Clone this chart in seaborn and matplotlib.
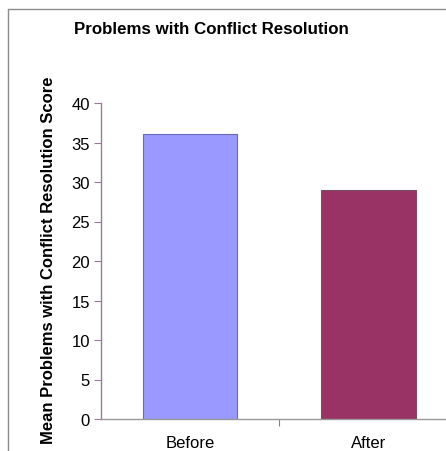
import matplotlib
matplotlib.use("Agg")
import matplotlib.pyplot as plt
import seaborn as sns
import pandas as pd
from matplotlib.lines import Line2D

# Mean scores before and after the intervention
categories = ["Before", "After"]
scores = [36.1, 29.0]
bar_colors = ["#9999FF", "#993366"]
edge_colors = ["#6a6ab8", "#7a5068"]
yticks = [0, 5, 10, 15, 20, 25, 30, 35, 40]

sns.set_theme(style="white")
plt.rcParams["font.family"] = ["Liberation Sans", "DejaVu Sans"]
plt.rcParams["text.color"] = "black"
plt.rcParams["xtick.color"] = "black"
plt.rcParams["ytick.color"] = "black"
plt.rcParams["axes.labelcolor"] = "black"

df = pd.DataFrame({"phase": categories, "score": scores})

fig = plt.figure(figsize=(4.46, 4.52), dpi=100)
W, H = 446, 452
# axes spans past the right edge of the canvas
ax_left, ax_right, ax_top, ax_bottom = 101, 457.8, 104, 420
ax = fig.add_axes([ax_left / W, 1 - ax_bottom / H, (ax_right - ax_left) / W, (ax_bottom - ax_top) / H])

sns.barplot(data=df, x="phase", y="score", hue="phase", palette=bar_colors,
            saturation=1, width=0.53, legend=False, ax=ax, linewidth=0.8)
for bar, ec in zip(ax.patches, edge_colors):
    bar.set_edgecolor(ec)

ax.set_ylim(0, 40)
ax.set_xlim(-0.5, 1.5)
ax.set_yticks(yticks)
ax.set_yticklabels([str(t) for t in yticks], fontsize=12)
ax.set_xticks([0.5])
ax.set_xticklabels([""])
for i, c in enumerate(categories):
    ax.text(i, -0.075, c, transform=ax.get_xaxis_transform(), ha="center", va="center", fontsize=12)

ax.tick_params(axis="y", direction="out", length=5, width=0.8, colors="black", pad=3, left=True)
ax.tick_params(axis="y", color="#9b7b95")
ax.tick_params(axis="x", direction="out", length=5, width=0.8, color="#808080", bottom=True)
for s in ["top", "right"]:
    ax.spines[s].set_visible(False)
ax.spines["left"].set_color("#9b7b95")
ax.spines["left"].set_linewidth(1.0)
ax.spines["bottom"].set_color("#999999")
ax.spines["bottom"].set_linewidth(1.0)
ax.set_xlabel("")
ax.set_ylabel("Mean Problems with Conflict Resolution Score", fontsize=12, fontweight="bold")
ax.yaxis.set_label_coords((56 - ax_left) / (ax_right - ax_left), 0.505)

fig.text(211 / W, 1 - 29 / H, "Problems with Conflict Resolution", ha="center", va="center",
         fontsize=12.2, fontweight="bold")

# chart frame: top and left edges
fig.add_artist(Line2D([8 / W, 1.05], [1 - 10 / H, 1 - 10 / H], transform=fig.transFigure,
                      color="#8c8c8c", linewidth=1.0, clip_on=False))
fig.add_artist(Line2D([8 / W, 8 / W], [-0.05, 1 - 10 / H], transform=fig.transFigure,
                      color="#8c8c8c", linewidth=1.0, clip_on=False))

fig.savefig("out.png", dpi=100)
